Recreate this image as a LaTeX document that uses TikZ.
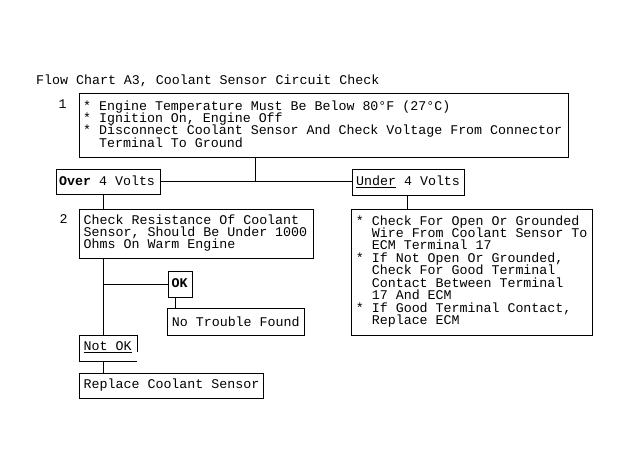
\documentclass[tikz,border=0pt]{standalone}
\usepackage{fontspec}
\setmainfont{Liberation Mono}
\newcommand\flowfs{\fontsize{13.3bp}{12.4bp}\selectfont\lineskiplimit=-50pt\lineskip=0pt\relax}
\tikzset{
  box/.style={draw, line width=1bp, inner sep=0pt, anchor=north west},
  txt/.style={inner sep=0pt, font=\flowfs, align=left},
  ln/.style={line width=1bp},
}
\begin{document}
\begin{tikzpicture}[x=1bp,y=-1bp]
\useasboundingbox[fill=white] (0,0) rectangle (630,474);
% boxes
\node[box, minimum width=489bp, minimum height=63.7bp] (b1) at (79.3,93.3) {};
\node[box, minimum width=103.8bp, minimum height=25.1bp] (over) at (55.7,169.3) {};
\node[box, minimum width=112.6bp, minimum height=25.7bp] (under) at (351.7,169.3) {};
\node[box, minimum width=233.4bp, minimum height=49.5bp] (b2) at (79.3,208.8) {};
\node[box, minimum width=240.4bp, minimum height=125.7bp] (b3) at (351.3,209.3) {};
\node[box, minimum width=24.3bp, minimum height=25.7bp] (ok) at (167.7,271) {};
\node[box, minimum width=137bp, minimum height=26.7bp] (nt) at (167.3,308.3) {};
\node[box, draw=none, minimum width=56.4bp, minimum height=25bp] (notok) at (79.3,335.7) {};
\node[box, minimum width=183.4bp, minimum height=25.6bp] (rep) at (79.3,372.7) {};
\draw[ln] (notok.south east) -- (notok.south west) -- (notok.north west) -- ([xshift=1bp]notok.north east) -- ++(0,16.5);
% texts
\node[txt, anchor=base west] (title) at (36,85) {Flow Chart A3, Coolant Sensor Circuit Check};
\node[txt, anchor=base west] (n1) at (58.5,109) {1};
\node[txt, anchor=base west] (n2) at (59.5,223.5) {2};
\node[txt, anchor=north west] (t1) at (83,98) {\rule{0pt}{12bp}* Engine Temperature Must Be Below 80°F (27°C)\\
* Ignition On, Engine Off\\
* Disconnect Coolant Sensor And Check Voltage From Connector\\
\phantom{*} Terminal To Ground};
\node[txt, anchor=base west] (tover) at (59,186) {\textbf{Over} 4 Volts};
\node[txt, anchor=base west] (tunder) at (356,186) {\underline{Under} 4 Volts};
\node[txt, anchor=north west] (t2) at (83.5,212) {\rule{0pt}{12bp}Check Resistance Of Coolant\\
Sensor, Should Be Under 1000\\
Ohms On Warm Engine};
\node[txt, anchor=north west] (t3) at (355.7,213) {\rule{0pt}{12bp}* Check For Open Or Grounded\\
\phantom{*} Wire From Coolant Sensor To\\
\phantom{*} ECM Terminal 17\\
* If Not Open Or Grounded,\\
\phantom{*} Check For Good Terminal\\
\phantom{*} Contact Between Terminal\\
\phantom{*} 17 And ECM\\
* If Good Terminal Contact,\\
\phantom{*} Replace ECM};
\node[txt, anchor=base west] (tok) at (171.5,287.3) {\textbf{OK}};
\node[txt, anchor=base west] (tnt) at (171.7,326) {No Trouble Found};
\node[txt, anchor=base west] (tnotok) at (83.5,350.7) {\underline{Not OK}};
\node[txt, anchor=base west] (trep) at (83.5,388.3) {Replace Coolant Sensor};
% connector guides
\coordinate (xa) at (103.3,0);
\coordinate (xb) at (255.7,0);
\coordinate (xc) at (407.7,0);
\coordinate (xd) at (175,0);
\coordinate (yh) at (0,181.7);
\coordinate (yk) at (0,284.3);
% connectors
\draw[ln] (b1.south -| xb) -- (yh -| xb);
\draw[ln] (over.east |- yh) -- (under.west |- yh);
\draw[ln] (over.south -| xa) -- (b2.north -| xa);
\draw[ln] (under.south -| xc) -- (b3.north -| xc);
\draw[ln] (b2.south -| xa) -- (notok.north -| xa);
\draw[ln] (yk -| xa) -- (ok.west |- yk);
\draw[ln] (ok.south -| xd) -- (nt.north -| xd);
\draw[ln] (notok.south -| xa) -- (rep.north -| xa);
\end{tikzpicture}
\end{document}
